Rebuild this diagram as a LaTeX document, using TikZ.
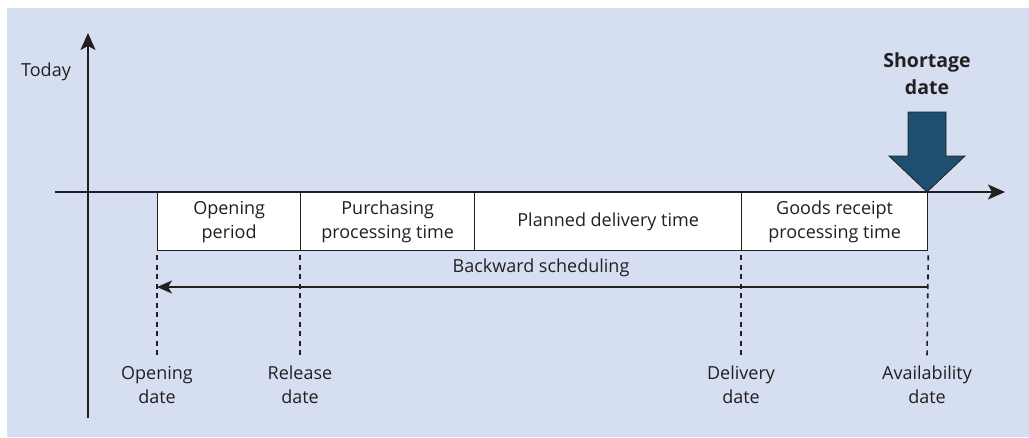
\documentclass[tikz,border=0pt]{standalone}
\usepackage{fontspec}
\setmainfont{Open Sans}
\usetikzlibrary{arrows.meta,positioning}
\definecolor{bgblue}{HTML}{D6DFF2}
\definecolor{darkblue}{HTML}{1D4F70}
\definecolor{ink}{HTML}{231F20}
\tikzset{
  txt/.style={text=ink, font=\fontsize{18}{24}\selectfont, align=center, inner sep=0pt},
  box/.style={draw=ink, line width=1.3pt, fill=white, anchor=north west, minimum height=58pt, inner sep=0pt, text=ink, font=\fontsize{18}{24}\selectfont, align=center},
  axis/.style={draw=ink, line width=2pt, -{Stealth[length=17pt,width=15pt,inset=4pt]}},
  guide/.style={draw=ink, line width=1.6pt, dash pattern=on 5pt off 4.5pt, dash phase=-4pt},
  back/.style={draw=ink, line width=2pt, -{Stealth[length=15pt,width=13pt,inset=4pt]}},
}
\begin{document}
\begin{tikzpicture}[x=1pt,y=-1pt]
\useasboundingbox (0,0) rectangle (1029,437);
\fill[bgblue] (7,8) rectangle (1029,437);
% axes
\coordinate (vb) at (88,418);
\coordinate (vt) at (88,33);
\coordinate (hl) at (55,192);
\coordinate (hr) at (1005,192);
\draw[axis] (vb) -- (vt);
\draw[axis] (hl) -- (hr);
\node[txt] (today) at (46,72) {Today};
% boxes
\node[box, minimum width=143pt] (b1) at (157,192) {Opening\\period};
\node[box, minimum width=174pt] (b2) at (300,192) {Purchasing\\processing time};
\node[box, minimum width=267pt] (b3) at (474,192) {Planned delivery time};
\node[box, minimum width=186pt] (b4) at (741,192) {Goods receipt\\processing time};
% guide lines
\coordinate (d1) at (157,357);
\coordinate (d2) at (300,357);
\coordinate (d3) at (741,357);
\coordinate (d4) at (927,357);
\draw[guide] (b1.south west) -- (d1);
\draw[guide] (b2.south west) -- (d2);
\draw[guide] (b4.south west) -- (d3);
\draw[guide] (b4.south east) -- (d4);
% backward scheduling
\coordinate (bs) at (927,287);
\coordinate (be) at (157,287);
\draw[back] (bs) -- (be);
\node[txt] (bslabel) at (541,268) {Backward scheduling};
% bottom labels
\node[txt] (l1) at (157,385) {Opening\\date};
\node[txt] (l2) at (300,385) {Release\\date};
\node[txt] (l3) at (741,385) {Delivery\\date};
\node[txt] (l4) at (927,385) {Availability\\date};
% shortage arrow
\fill[darkblue, draw=ink, line width=0.8pt] (908,112) -- (946,112) -- (946,156) -- (965,156) -- (927,192) -- (889,156) -- (908,156) -- cycle;
\node[txt, font=\bfseries\fontsize{19.5}{27}\selectfont] (short) at (927,74) {Shortage\\date};
\end{tikzpicture}
\end{document}
